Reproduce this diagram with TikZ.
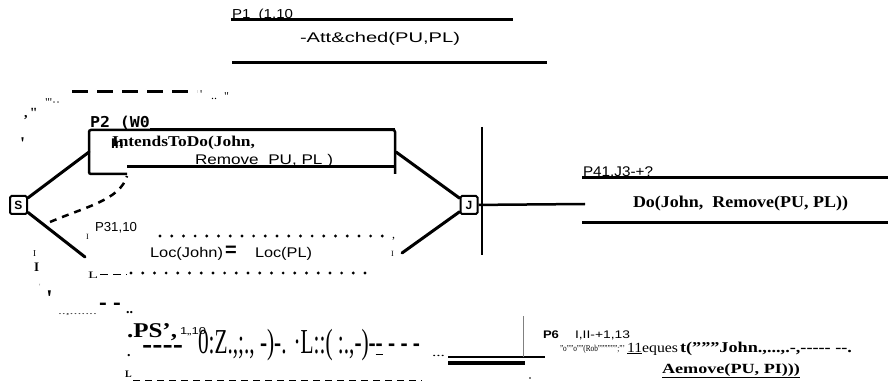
\documentclass[tikz,border=0pt]{standalone}
\usepackage{fontspec}
\usepackage{graphicx}
\setmainfont{Liberation Serif}
\setsansfont{Liberation Sans}
\newfontfamily\monob{DejaVu Sans Mono}
\newcommand{\fsz}[1]{\fontsize{#1}{#1}\selectfont}
\newcommand{\wfit}[2]{\resizebox{#1}{\height}{#2}}
\begin{document}
\begin{tikzpicture}[x=1pt,y=-1pt,
  txt/.style={inner sep=0pt,outer sep=0pt,anchor=base west},
  rule/.style={line width=3pt},
  branch/.style={line width=3pt,line cap=round},
  gate/.style={draw,line width=2pt,rounded corners=1.5pt,minimum width=17pt,minimum height=18pt,inner sep=0pt,font=\sffamily\bfseries\fsz{12}},
  dotrow/.style={line width=3.2pt,line cap=round,dash pattern=on 0pt off 11.7pt},
  thindash/.style={line width=0.8pt,dash pattern=on 7pt off 5pt}]
\useasboundingbox (0,0) rectangle (888,387);

% ---- top proposition P1
\node[txt] (p1) at (232,19) {\sffamily\fsz{13}\wfit{61pt}{P1\ \ (1.10}};
\draw[rule] (231,20) -- (513,20);
\node[txt] (att) at (300,43) {\sffamily\fsz{14}\wfit{160pt}{-Att\&ched(PU,PL)}};
\draw[rule] (232,63) -- (547,63);

% ---- dashed arc marks, top left
\draw[line width=3pt,dash pattern=on 16pt off 9pt] (72,92) -- (197,92);
\node[txt] (m1) at (200,99) {\fsz{12}\textquotesingle};
\node[txt] (m2) at (211,100) {\fsz{12}..};
\node[txt] (m3) at (224,101) {\fsz{12}\textquotedbl};
\node[txt] (m4) at (24,118) {\bfseries\fsz{14},\,\textquotedbl};
\node[txt] (m5) at (45,107) {\fsz{12}\textquotedbl\textquotesingle··};
\node[txt] (m6) at (20,150) {\bfseries\fsz{18}\textquotesingle};

% ---- S and J gates
\node[gate] (S) at (18.5,205) {S};
\node[gate] (J) at (469,205) {J};
\coordinate (boxL) at (89,152);
\coordinate (boxR) at (396,152);
\coordinate (lowL) at (85,257);
\coordinate (lowR) at (402,253);
\coordinate (Jout) at (585,204);

% ---- P2 box
\draw[line width=2.5pt,rounded corners=2pt] (127,174) -- (89,174) -- (89,130) -- (395,130) -- (395,174);
\draw[line width=3pt] (150,129.5) -- (395,129.5);
\draw[line width=3pt] (127,167) -- (395,167);
\node[txt] (p2) at (90,128) {\monob\bfseries\fsz{15}\wfit{60pt}{P2 (W0}};
\node[txt] (int) at (112,147) {\bfseries\fsz{15}\wfit{143pt}{IntendsToDo(John,}};
\node[txt] (inb) at (111,148.5) {\sffamily\bfseries\fsz{14}In};
\node[txt] (rem) at (195,165) {\sffamily\fsz{14}\wfit{138pt}{Remove\ \ PU, PL\ )}};

% ---- branches
\draw[branch] (S) -- (boxL);
\draw[branch] (S) -- (lowL);
\draw[branch] (boxR) -- (J);
\draw[branch] (J) -- (lowR);
\draw[line width=2.5pt] (J) -- (Jout);
\draw[line width=2.5pt,dash pattern=on 7pt off 6pt] (50,222) .. controls (85,207) and (120,200) .. (127,176);
\draw[line width=1.6pt] (482,127) -- (482,255);

% ---- P4
\node[txt] (p4) at (583,177) {\sffamily\fsz{14}\wfit{70pt}{P41,J3-+?}};
\draw[rule] (582,178) -- (888,178);
\node[txt] (do) at (633,208) {\bfseries\fsz{16.5}\wfit{215pt}{Do(John,\ \ Remove(PU,\ PL))}};
\draw[rule] (582,223) -- (888,223);

% ---- P3
\node[txt] (p3) at (95,232) {\sffamily\fsz{13}\wfit{42pt}{P31,10}};
\node[txt] (i1) at (86,240) {\fsz{8}I};
\draw[dotrow] (160,236) -- (385,236);
\node[txt] (c1) at (392,239) {\fsz{12},};
\node[txt] (loc1) at (150,258) {\sffamily\fsz{14}\wfit{73pt}{Loc(John)}};
\node[txt] (eq) at (225,257) {\sffamily\bfseries\fsz{20}=};
\node[txt] (loc2) at (255,258) {\sffamily\fsz{14}\wfit{57pt}{Loc(PL)}};
\node[txt] (i2) at (391,257) {\fsz{8}I};
\node[txt] (l1) at (88,278) {\fsz{10}\wfit{10pt}{L}};
\draw[line width=0.8pt,dash pattern=on 8pt off 5pt] (100,274) -- (127,274);
\draw[dotrow] (131,273) -- (370,273);

% ---- left column marks
\node[txt] (i3) at (33,257) {\fsz{9}I};
\node[txt] (i4) at (34,271) {\bfseries\fsz{13}I};
\node[txt] (m7) at (39,289) {\color{gray}\fsz{8}\textquotesingle};
\node[txt] (m8) at (46,306) {\bfseries\fsz{24}\textquotesingle};
\node[txt] (m9) at (58,314) {\fsz{7}\wfit{39pt}{..,.......}};
\node[txt] (m10) at (99,309) {\sffamily\bfseries\fsz{20}\wfit{22pt}{-\ -}};
\node[txt] (m11) at (126,313) {\bfseries\fsz{14}..};

% ---- P5
\node[txt] (p5) at (127,337) {\bfseries\fsz{21}\wfit{50pt}{.PS',}};
\node[txt] (d1) at (127,356) {\bfseries\fsz{14}.};
\node[txt] (p5n) at (180,334) {\sffamily\fsz{10}\wfit{26pt}{1,,10}};
\node[txt] (dsh) at (142,352) {\sffamily\bfseries\fsz{22}\wfit{41pt}{-{}-{}-{}-}};
\node[txt] (garb) at (198,353) {\fsz{35}\wfit{222pt}{0:Z.,;., -)-. ·L::( :.,-)-\underline{-} - - -}};
\node[txt] (ell) at (432,356) {\fsz{12}\wfit{13pt}{...}};
\node[txt] (l2) at (125,377) {\bfseries\fsz{10}L};
\draw[thindash] (133,380) -- (422,380);
\draw[line width=1.2pt] (448,357) -- (545,357);
\draw[line width=4pt] (448,363) -- (525,363);
\draw[gray,line width=0.8pt] (523,316) -- (523,357);
\fill (530,378) circle (0.8);

% ---- P6
\node[txt] (p6) at (543,338) {\sffamily\bfseries\fsz{11}\wfit{16pt}{P6}};
\node[txt] (p6n) at (575,338) {\sffamily\fsz{11}\wfit{55pt}{I,II-+1,13}};
\node[txt] (rq1) at (560,351) {\fsz{9}\wfit{65pt}{"o""o""(Rob"""""";"'}};
\node[txt] (rq2) at (627,352) {\fsz{14}\wfit{51pt}{\underline{11}eques}};
\node[txt] (rq3) at (680,352) {\bfseries\fsz{15}\wfit{172pt}{t("""John.,...,.-,-{}-{}-{}-{}- -{}-.}};
\node[txt] (rq4) at (662,373) {\bfseries\fsz{14}\wfit{138pt}{\underline{Aemove(PU, PI)))}}};
\end{tikzpicture}
\end{document}
